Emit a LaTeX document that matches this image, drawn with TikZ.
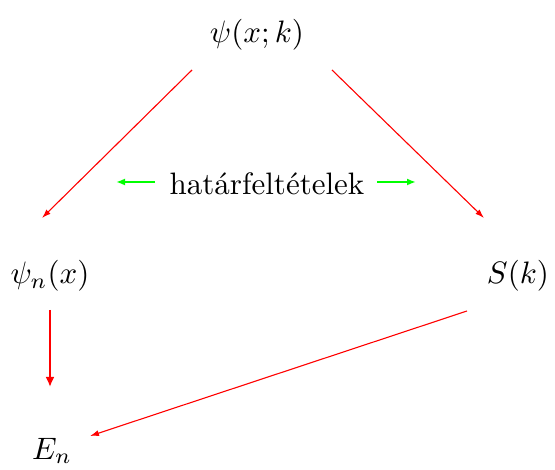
\documentclass[tikz,border=0pt]{standalone}
\usetikzlibrary{arrows.meta}
\begin{document}
\begin{tikzpicture}[x=1pt,y=-1pt,
  lbl/.style={inner sep=0pt,font=\normalsize,scale=3.1},
  redarr/.style={draw=red,line width=1.1pt,-{Latex[length=9pt,width=6pt]}},
  thickarr/.style={draw=red,line width=2.6pt,-{Latex[length=10pt,width=9pt]}},
  grnarr/.style={draw=green,line width=2.6pt,-{Latex[length=9pt,width=7pt]}}]
\useasboundingbox (0,0) rectangle (555,470);
\node[lbl] (psi) at (257,35) {$\psi(x;k)$};
\node[lbl] (psin) at (50,276) {$\psi_n(x)$};
\node[lbl] (S) at (518,276) {$S(k)$};
\node[lbl] (E) at (52,451) {$E_n$};
\node[lbl] (hf) at (267,184) {határfeltételek};
\coordinate (a1) at (192,70); \coordinate (a2) at (42,218);
\coordinate (b1) at (332,70); \coordinate (b2) at (484,218);
\coordinate (c1) at (50,310); \coordinate (c2) at (50,387);
\coordinate (d1) at (467,311); \coordinate (d2) at (90,436);
\coordinate (g1) at (155,182); \coordinate (g2) at (116,182);
\coordinate (h1) at (377,182); \coordinate (h2) at (416,182);
\draw[redarr] (a1) -- (a2);
\draw[redarr] (b1) -- (b2);
\draw[thickarr] (c1) -- (c2);
\draw[redarr] (d1) -- (d2);
\draw[grnarr] (g1) -- (g2);
\draw[grnarr] (h1) -- (h2);
\end{tikzpicture}
\end{document}
